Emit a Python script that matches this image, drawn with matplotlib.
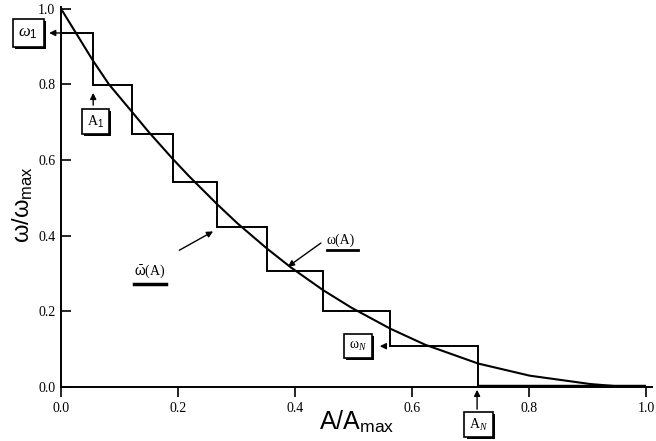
import matplotlib
matplotlib.use("Agg")
import matplotlib.pyplot as plt
import matplotlib.patheffects as pe

plt.rcParams['mathtext.fontset'] = 'custom'
plt.rcParams['mathtext.rm'] = 'Liberation Sans'
plt.rcParams['mathtext.it'] = 'Liberation Serif:italic'

# Step (discretised) distribution
step_edges = [0.0, 0.055, 0.121, 0.191, 0.267, 0.352, 0.448, 0.563, 0.713, 1.0]
step_levels = [0.936, 0.798, 0.668, 0.543, 0.422, 0.307, 0.202, 0.108, 0.0]

# Continuous curve omega(A)
curve_A = [0.0, 0.055, 0.082, 0.121, 0.150, 0.191, 0.219, 0.267, 0.302, 0.352,
           0.393, 0.448, 0.496, 0.563, 0.622, 0.713, 0.801, 0.904, 0.95, 1.0]
curve_w = [1.0, 0.862, 0.800, 0.728, 0.674, 0.603, 0.557, 0.483, 0.432, 0.366,
           0.316, 0.256, 0.210, 0.154, 0.112, 0.062, 0.030, 0.008, 0.002, 0.0]

x_ticks = [0.0, 0.2, 0.4, 0.6, 0.8, 1.0]
y_ticks = [0.0, 0.2, 0.4, 0.6, 0.8, 1.0]
tick_labels = ["0.0", "0.2", "0.4", "0.6", "0.8", "1.0"]

fig = plt.figure(figsize=(6.56, 4.41), dpi=100)
ax = fig.add_axes([0.093, 0.1224, 0.901, 0.862])

ax.stairs(step_levels, step_edges, baseline=None, color='k', lw=1.4)
ax.plot(step_edges[-2:], step_levels[-1:] * 2, color='k', lw=3.2, solid_capstyle='butt')
ax.plot(curve_A, curve_w, color='k', lw=1.5)

ax.set_xlim(0, 1.01)
ax.set_ylim(0, 1.005)
ax.spines['top'].set_visible(False)
ax.spines['right'].set_visible(False)
ax.spines['left'].set_linewidth(1.4)
ax.spines['bottom'].set_linewidth(1.4)
ax.set_xticks(x_ticks)
ax.set_xticklabels(tick_labels, family='Liberation Serif', fontsize=10)
ax.set_yticks(y_ticks)
ax.set_yticklabels(tick_labels, family='Liberation Serif', fontsize=10)
ax.tick_params(axis='x', direction='out', length=7, width=1.2, pad=4)
ax.tick_params(axis='y', direction='in', length=7, width=1.2, pad=4)

ax.set_xlabel(r'A/A$_{\mathrm{max}}$', family='Liberation Sans', fontsize=18)
ax.xaxis.set_label_coords(0.5, -0.055)
ax.set_ylabel(r'ω/ω$_{\mathrm{max}}$', family='Liberation Sans', fontsize=17)
ax.yaxis.set_label_coords(-0.044, 0.48)

shadow = [pe.withSimplePatchShadow(offset=(1.5, -1.5), shadow_rgbFace='k', alpha=1.0)]
box = dict(boxstyle='square,pad=0.35', fc='white', ec='k', lw=1.2)
arrow = dict(arrowstyle='-|>', color='k', lw=1.0, mutation_scale=9)


def boxed(x, y, s, size=10):
    t = ax.text(x, y, s, ha='center', va='center', fontsize=size,
                family='Liberation Serif', bbox=box, clip_on=False)
    t.get_bbox_patch().set_path_effects(shadow)
    return t


# omega_1
boxed(-0.056, 0.936, r'$\mathit{ω}_1$', size=12)
ax.annotate('', xy=(-0.025, 0.936), xytext=(0.01, 0.936), arrowprops=arrow,
            annotation_clip=False)
# A_1
boxed(0.059, 0.702, r'A$_1$')
ax.annotate('', xy=(0.055, 0.785), xytext=(0.055, 0.738), arrowprops=arrow)
# omega_N
boxed(0.507, 0.108, r'ω$_N$')
ax.annotate('', xy=(0.540, 0.108), xytext=(0.557, 0.108), arrowprops=arrow)
# A_N
boxed(0.714, -0.099, r'A$_N$')
ax.annotate('', xy=(0.711, 0.0), xytext=(0.711, -0.066), arrowprops=arrow,
            annotation_clip=False)

# labels with underline
ax.text(0.152, 0.305, r'$\bar{\mathrm{ω}}$(A)', ha='center', va='center',
        fontsize=10, family='Liberation Serif')
ax.plot([0.125, 0.180], [0.272, 0.272], color='k', lw=2.5)
ax.annotate('', xy=(0.264, 0.415), xytext=(0.198, 0.358), arrowprops=arrow)

ax.text(0.478, 0.389, 'ω(A)', ha='center', va='center', fontsize=10,
        family='Liberation Serif')
ax.plot([0.455, 0.507], [0.362, 0.362], color='k', lw=2.0)
ax.annotate('', xy=(0.384, 0.314), xytext=(0.448, 0.385), arrowprops=arrow)

fig.savefig('out.png', dpi=100)
